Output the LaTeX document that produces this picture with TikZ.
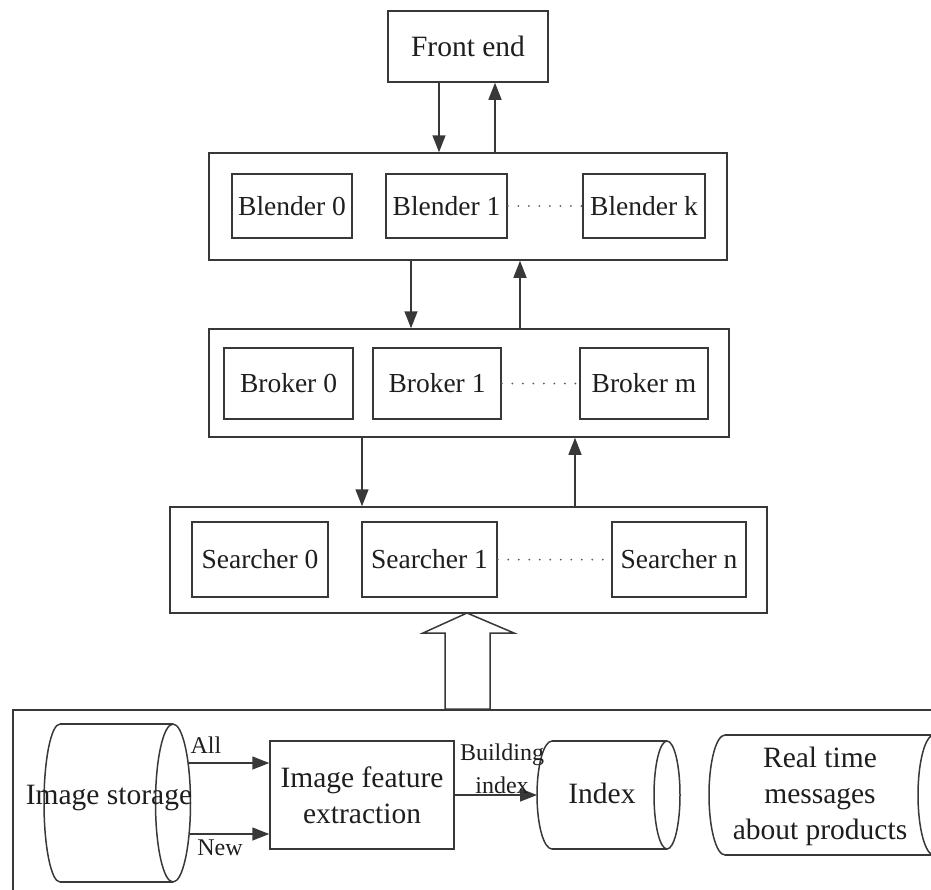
\documentclass[tikz,border=0pt]{standalone}
\usepackage{fontspec}
\setmainfont{Liberation Serif}
\usetikzlibrary{arrows.meta,calc}
\definecolor{lc}{HTML}{383838}
\definecolor{tc}{HTML}{1E1E1E}
\definecolor{dc}{HTML}{5A5A5A}
\newcommand\hcylshape[6]{%
  \draw[shp] (#1,#3+#4) -- (#2,#3+#4) (#1,#3-#4) -- (#2,#3-#4);
  \draw[shp] (#1,#3+#4) arc[start angle=90,end angle=270,x radius=#5pt,y radius=#4pt];
  \draw[shp] (#2,#3) ellipse[x radius=#6pt,y radius=#4pt];}
\begin{document}
\begin{tikzpicture}[x=1pt,y=1pt,
  box/.style={draw=lc,line width=1.5pt,inner sep=0pt,text=tc,align=center},
  midf/.style={font=\fontsize{27.5}{33}\selectfont},
  bigf/.style={font=\fontsize{29.5}{36}\selectfont},
  lblf/.style={font=\fontsize{24}{28}\selectfont,text=tc,inner sep=0pt},
  txt/.style={text=tc,inner sep=0pt,align=center},
  arr/.style={draw=lc,line width=1.5pt,-{Triangle[length=17pt,width=13pt]}},
  dotline/.style={draw=dc,line width=2pt,line cap=round,dash pattern=on 0pt off 10.5pt},
  shp/.style={draw=lc,line width=1.5pt},
]
\path[use as bounding box] (0,0) rectangle (931,-889);
\clip (0,0) rectangle (931,-889);

% Front end
\node[box,bigf,minimum width=160pt,minimum height=71pt] (fe) at (468,-46.5) {Front end};

% Blenders
\node[box,minimum width=518pt,minimum height=107pt] (blo) at (468,-206.5) {};
\node[box,midf,minimum width=120pt,minimum height=64pt] (b0) at (292,-206) {Blender 0};
\node[box,midf,minimum width=121pt,minimum height=64pt] (b1) at (446.5,-206) {Blender 1};
\node[box,midf,minimum width=122pt,minimum height=64pt] (bk) at (644,-206) {Blender k};
\draw[dotline] (b1.east) -- (bk.west);

% Brokers
\node[box,minimum width=520pt,minimum height=108pt] (bro) at (469,-383) {};
\node[box,midf,minimum width=129pt,minimum height=71pt] (r0) at (288.5,-383.5) {Broker 0};
\node[box,midf,minimum width=128pt,minimum height=71pt] (r1) at (437,-383.5) {Broker 1};
\node[box,midf,minimum width=128pt,minimum height=71pt] (rm) at (644,-383.5) {Broker m};
\draw[dotline] (r1.east) -- (rm.west);

% Searchers
\node[box,minimum width=597pt,minimum height=106pt] (so) at (468.5,-560) {};
\node[box,midf,minimum width=136pt,minimum height=75pt] (s0) at (260,-559.5) {Searcher 0};
\node[box,midf,minimum width=135pt,minimum height=75pt] (s1) at (429.5,-559.5) {Searcher 1};
\node[box,midf,minimum width=134pt,minimum height=75pt] (sn) at (679,-559.5) {Searcher n};
\draw[dotline] (s1.east) -- (sn.west);

% vertical arrows
\coordinate (xa) at (439,0);
\coordinate (xb) at (495,0);
\coordinate (xc) at (411,0);
\coordinate (xd) at (520,0);
\coordinate (xe) at (362,0);
\coordinate (xf) at (575,0);
\draw[arr] (fe.south -| xa) -- (blo.north -| xa);
\draw[arr] (blo.north -| xb) -- (fe.south -| xb);
\draw[arr] (blo.south -| xc) -- (bro.north -| xc);
\draw[arr] (bro.north -| xd) -- (blo.south -| xd);
\draw[arr] (bro.south -| xe) -- (so.north -| xe);
\draw[arr] (so.north -| xf) -- (bro.south -| xf);

% bottom container
\node[box,anchor=north west,minimum width=960pt,minimum height=220pt] (bot) at (12,-709) {};

% hollow arrow
\draw[shp,fill=white,line join=miter] (467,-613) -- (514,-633) -- (490,-633) -- (490,-709)
  -- (445,-709) -- (445,-633) -- (423,-633) -- cycle;

% Image storage cylinder
\hcylshape{60}{173}{-803}{79}{16}{17.5}
\node[txt,bigf] (is) at (109,-798) {Image storage};
\coordinate (isA) at (188,-763);
\coordinate (isN) at (189,-834);

% Image feature extraction
\node[box,bigf,minimum width=184pt,minimum height=108pt] (ife) at (362,-795) {Image feature\\extraction};
\draw[arr] (isA) -- (isA -| ife.west);
\draw[arr] (isN) -- (isN -| ife.west);
\node[lblf] (lall) at (206,-745) {All};
\node[lblf] (lnew) at (220,-848) {New};

% Index cylinder
\hcylshape{552}{667}{-795}{54}{15}{13}
\node[txt,bigf] (idx) at (602,-793) {Index};
\coordinate (idxL) at (537,-795);
\draw[arr] (ife.east) -- (idxL);
\node[lblf] (lbld) at (502,-755) {Building};
\node[lblf] (lidx) at (502,-785) {index};

% Real time messages cylinder
\hcylshape{725}{934}{-795}{60}{16}{16}
\node[txt,bigf] (rt) at (820,-796) {Real time\\messages\\about products};
\end{tikzpicture}
\end{document}
